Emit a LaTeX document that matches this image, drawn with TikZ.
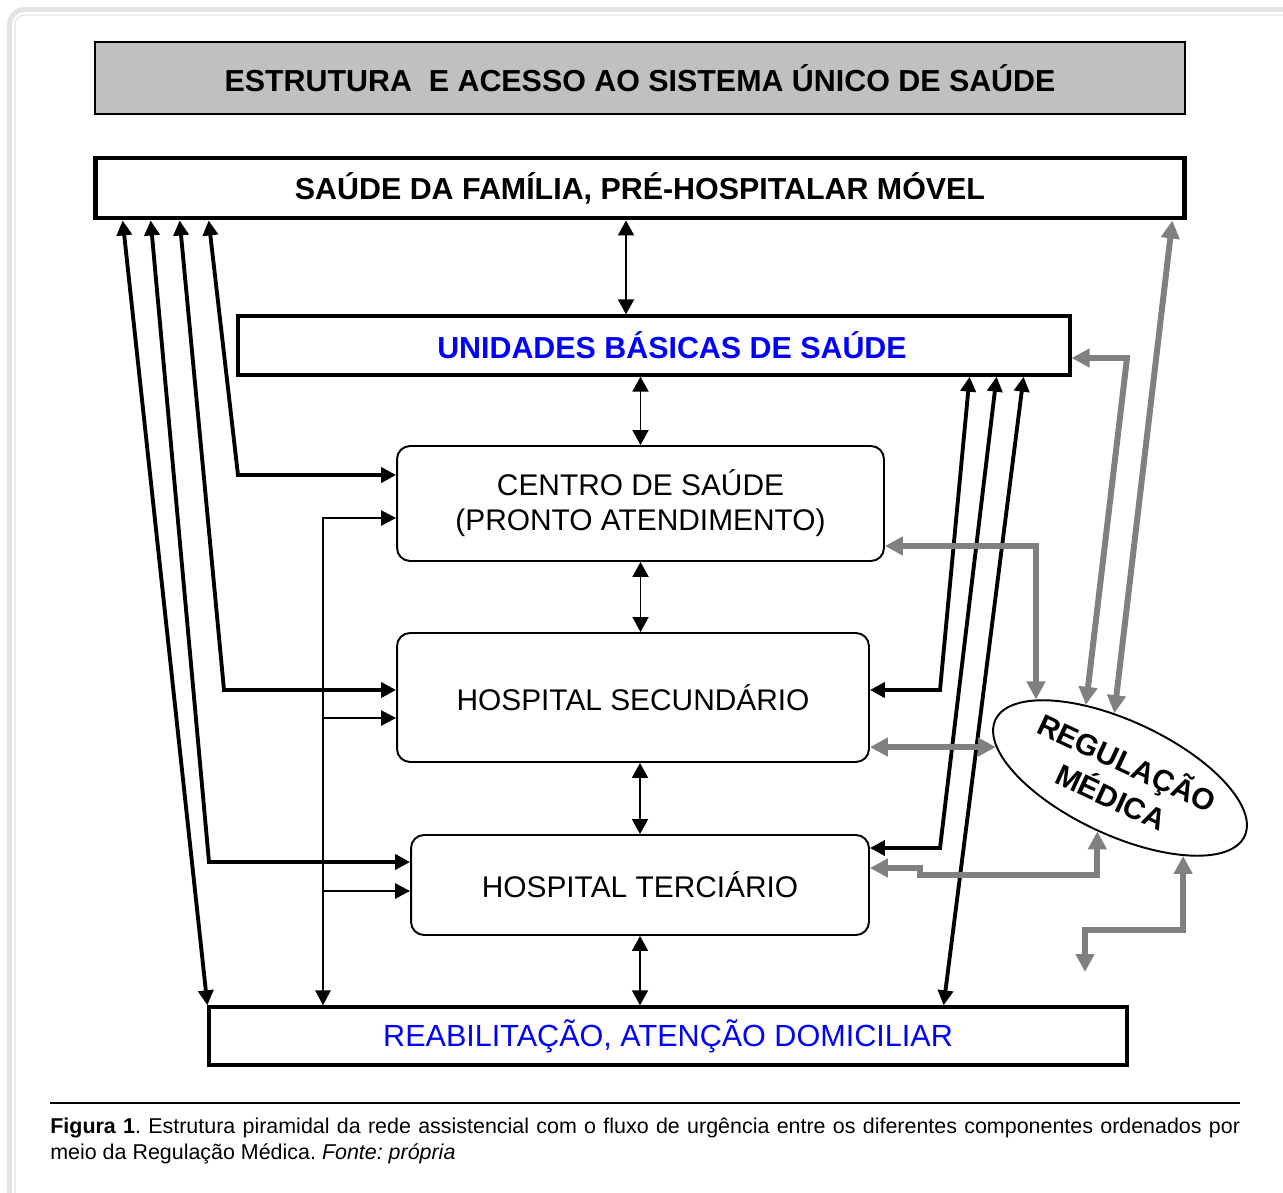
\documentclass[tikz,border=0pt]{standalone}
\usepackage{fontspec}
\setmainfont{Liberation Sans}
\usetikzlibrary{arrows.meta,positioning,shapes.geometric,calc}
\definecolor{flowgray}{HTML}{808080}
\definecolor{titlegray}{HTML}{C0C0C0}
\definecolor{framegray}{HTML}{E3E3E3}
\definecolor{ubsblue}{HTML}{0000FF}

\begin{document}
\begin{tikzpicture}[
  x=0.02cm, y=-0.02cm,
  lvl/.style={rectangle, draw, inner sep=0pt,
              font=\bfseries\fontsize{17.3}{20}\selectfont},
  rbox/.style={rectangle, draw, rounded corners=0.26cm, line width=1.1pt,
               inner sep=0pt, align=center,
               font=\fontsize{17}{19.8}\selectfont},
  blk/.style={line width=2.2pt, >={Triangle[length=3mm,width=3mm]}},
  med/.style={line width=1.5pt, >={Triangle[length=3mm,width=3mm]}},
  thn/.style={line width=1.1pt, >={Triangle[length=3mm,width=3.2mm]}},
  gry/.style={flowgray, line width=3.4pt, >={Triangle[length=3.6mm,width=3.6mm]}}
]
\useasboundingbox (0,0) rectangle (1283,1192);
\begin{scope}
\clip (0,0) rectangle (1283,1192);
\draw[framegray, line width=0.1cm, rounded corners=0.3cm] (9.5,9.5) rectangle (1330,1240);
\draw[framegray, line width=0.6pt, rounded corners=0.2cm] (15,15) rectangle (1330,1240);
\end{scope}

\node[lvl, fill=titlegray, line width=1pt, minimum width=21.8cm,
      minimum height=1.44cm] (title) at (640,78)
      {ESTRUTURA\ \ E ACESSO AO SISTEMA ÚNICO DE SAÚDE};
\node[lvl, line width=2.8pt, minimum width=21.8cm, minimum height=1.2cm]
      (sf) at (640,188) {SAÚDE DA FAMÍLIA, PRÉ-HOSPITALAR MÓVEL};
\node[lvl, line width=1.9pt, minimum width=16.64cm, minimum height=1.18cm,
      text=ubsblue] (ubs) at (654,345.5)
      {\hspace*{0.72cm}UNIDADES BÁSICAS DE SAÚDE};
\node[rbox, minimum width=9.74cm, minimum height=2.3cm] (centro) at (640.5,503.5)
      {CENTRO DE SAÚDE\\(PRONTO ATENDIMENTO)};
\node[rbox, minimum width=9.44cm, minimum height=2.58cm] (hsec) at (633,697.5)
      {HOSPITAL SECUNDÁRIO};
\node[rbox, minimum width=9.16cm, minimum height=2cm] (hter) at (640,885)
      {HOSPITAL TERCIÁRIO};
\node[lvl, line width=1.9pt, minimum width=18.36cm, minimum height=1.16cm,
      text=ubsblue, font=\fontsize{17.4}{20}\selectfont] (reab) at (668,1036)
      {REABILITAÇÃO, ATENÇÃO DOMICILIAR};
\node[ellipse, draw, line width=1.1pt, rotate=-25, inner sep=0pt,
      minimum width=5.5cm, minimum height=2.28cm, align=center,
      font=\bfseries\fontsize{17}{21.5}\selectfont] (reg) at (1120,778)
      {REGULAÇÃO\\MÉDICA};

\coordinate (bL2) at (209,862);
\coordinate (bL3) at (224,690);
\coordinate (bL4) at (238,475);
\draw[blk,<->] ($(sf.south west)+(30,0)$) -- (reab.north west);
\draw[blk,<->] ($(sf.south west)+(58,0)$) -- (bL2) -- (bL2 -| hter.west);
\draw[blk,<->] ($(sf.south west)+(87,0)$) -- (bL3) -- (bL3 -| hsec.west);
\draw[blk,<->] ($(sf.south west)+(116,0)$) -- (bL4) -- (bL4 -| centro.west);

\coordinate (bV1) at (323,518);
\coordinate (bV2) at (323,718);
\coordinate (bV3) at (323,891);
\draw[med,<->] (bV1 -| centro.west) -- (bV1) -- (bV1 |- reab.north);
\draw[med,->] (bV2) -- (bV2 -| hsec.west);
\draw[med,->] (bV3) -- (bV3 -| hter.west);

\draw[thn,<->] ($(sf.south)+(-14,0)$) -- ($(ubs.north)+(-28,0)$);
\draw[thn,<->] (centro.north |- ubs.south) -- (centro.north);
\draw[thn,<->] (centro.south) -- (centro.south |- hsec.north);
\draw[thn,<->] (hter.north |- hsec.south) -- (hter.north);
\draw[thn,<->] (hter.south) -- (hter.south |- reab.north);

\coordinate (bR1) at (940,690);
\coordinate (bR2) at (940,848);
\draw[blk,<->] ($(ubs.south east)+(-102,0)$) -- (bR1) -- (bR1 -| hsec.east);
\draw[blk,<->] ($(ubs.south east)+(-75,0)$) -- (bR2) -- (bR2 -| hter.east);
\draw[blk,<->] ($(ubs.south east)+(-48,0)$) -- ($(reab.north east)+(-185,0)$);

\coordinate (gU) at (1127,358);
\coordinate (gC) at (1036,546);
\coordinate (gT) at (920,868);
\coordinate (gB) at (1185,930);
\coordinate (gE) at (1085,972);
\draw[gry,<->] (gU -| ubs.east) -- (gU) -- (reg.140);
\draw[gry,<->] ($(sf.south east)+(-15,0)$) -- (reg.120);
\draw[gry,<->] (gC -| centro.east) -- (gC) -- (gC |- reg.161);
\draw[gry,<->] (reg.191 -| hsec.east) -- (reg.191);
\draw[gry,<->] (gT -| hter.east) -- (gT) -- ++(0,7) -| (reg.272);
\draw[gry,<->] (reg.334) -- (reg.334 |- gB) -| (gE);

\draw[line width=0.6pt] (50,1103) -- (1240,1103);
\node[anchor=north west, inner sep=0pt, text width=23.8cm, align=justify,
      font=\fontsize{12.2}{14.7}\selectfont\frenchspacing] (cap) at (50,1118)
      {\textbf{Figura 1}. Estrutura piramidal da rede assistencial com o fluxo de urgência entre os diferentes componentes ordenados por\linebreak meio da Regulação Médica. \textit{Fonte: própria}};
\end{tikzpicture}
\end{document}
